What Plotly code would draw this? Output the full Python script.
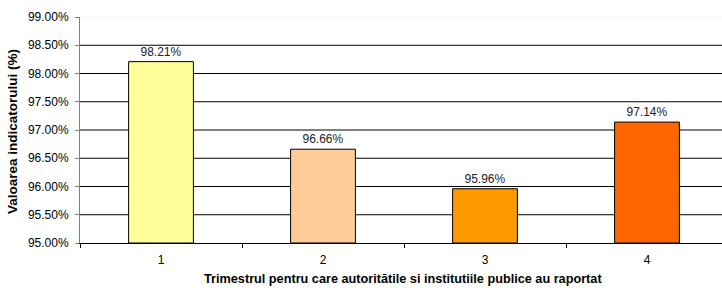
import plotly.graph_objects as go

categories = ["1", "2", "3", "4"]
values = [98.21, 96.66, 95.96, 97.14]
labels = ["98.21%", "96.66%", "95.96%", "97.14%"]
colors = ["#FFFF99", "#FFCC99", "#FF9900", "#FF6600"]
y_ticks = [95.0, 95.5, 96.0, 96.5, 97.0, 97.5, 98.0, 98.5, 99.0]
y_tick_text = ["%.2f%%" % v for v in y_ticks]

FONT = "Liberation Sans, Arial, sans-serif"

fig = go.Figure()
fig.add_trace(go.Bar(
    x=categories, y=[v - 95.0 for v in values], base=95.0,
    width=0.4,
    marker=dict(color=colors, line=dict(color="#000000", width=1)),
    text=labels, textposition="outside", cliponaxis=False,
    textfont=dict(family=FONT, size=12, color="#222222"),
    hoverinfo="skip",
))

shapes = []
for v in y_ticks[1:]:
    shapes.append(dict(type="line", xref="paper", yref="y", x0=0, x1=1, y0=v, y1=v,
                       line=dict(color="#EEEEEE" if v == 99.0 else "#000000", width=1),
                       layer="below"))

fig.update_layout(
    width=722, height=288,
    margin=dict(l=80, r=0, t=17, b=45, autoexpand=False),
    paper_bgcolor="white", plot_bgcolor="white",
    showlegend=False,
    bargap=0.6,
    shapes=shapes,
    font=dict(family=FONT, size=12, color="#000000"),
    xaxis=dict(type="category", range=[-0.5, 3.463], tickson="boundaries",
               ticks="outside", ticklen=4, tickcolor="#000000",
               showline=True, linecolor="#000000", linewidth=1,
               showgrid=False, zeroline=False, automargin=False,
               ticklabelstandoff=6,
               tickfont=dict(family=FONT, size=12, color="#000000")),
    yaxis=dict(range=[95.0, 99.0], tickvals=y_ticks, ticktext=y_tick_text,
               ticks="outside", ticklen=4, tickcolor="#808080",
               showline=True, linecolor="#808080", linewidth=1,
               showgrid=False, zeroline=False, automargin=False,
               ticklabelstandoff=4,
               tickfont=dict(family=FONT, size=12, color="#000000")),
    annotations=[
        dict(text="<b>Valoarea indicatorului (%)</b>", xref="paper", yref="paper",
             x=(12-80)/642, y=(243-132)/226, xanchor="center", yanchor="middle", textangle=-90,
             showarrow=False, font=dict(family=FONT, size=13.5, color="#000000")),
        dict(text="<b>Trimestrul pentru care autoritătile si institutiile publice au raportat</b>",
             xref="paper", yref="paper", x=(403-80)/642, y=-(288-243)/226,
             xanchor="center", yanchor="bottom", showarrow=False,
             font=dict(family=FONT, size=12.7, color="#000000")),
    ],
)

fig.write_html("out.html", config={"displayModeBar": False},
               post_script="document.body.style.margin='0';document.body.style.overflow='hidden';")
